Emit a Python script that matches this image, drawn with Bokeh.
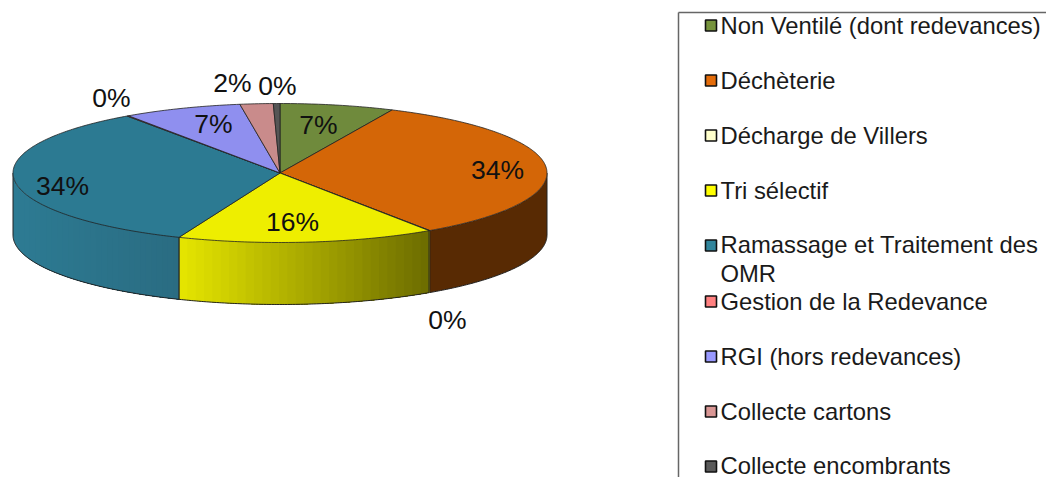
import numpy as np
from bokeh.plotting import figure
from bokeh.models import Range1d
from bokeh.embed import file_html
from bokeh.resources import INLINE
from bokeh.core.properties import value

# ---- data ----
categories = ["Non Ventilé (dont redevances)", "Déchèterie", "Décharge de Villers", "Tri sélectif",
              "Ramassage et Traitement des\nOMR", "Gestion de la Redevance",
              "RGI (hors redevances)", "Collecte cartons", "Collecte encombrants"]
shares = [6.9, 33.6, 0.05, 15.6, 34.1, 0.1, 7.2, 2.0, 0.4]

# ---- styles ----
top_colors = ["#6f8a3c", "#d46607", "#eeeebb", "#eeee00", "#2c7a92", "#ee7777", "#8f8fef", "#c98b8b", "#555555"]
legend_colors = ["#76933c", "#e46c0a", "#ffffcc", "#ffff00", "#31859c", "#ff8080", "#9999ff", "#d99694", "#595959"]
side_from = {1: "#582a03", 2: "#6c6c00", 3: "#e6e600", 4: "#2d7b93"}
side_to = {1: "#582a03", 2: "#6c6c00", 3: "#6c6c00", 4: "#2a6c82"}

# ---- layout (page pixels) ----
CX, CY, RX, RY, DEPTH = 279.5, 172.5, 267, 69.5, 62
label_x = [318, 497, 447, 292, 62, 111, 213, 232, 277]
label_y = [124, 169, 319, 221, 185, 97, 123, 82, 85]
legend_y = [24.5, 79.5, 134.5, 189.5, 258.5, 300.5, 355.5, 410.5, 464.5]
marker_y = [25, 80, 135, 190, 245, 301, 356, 411, 466]
LEG_BOX_X, LEG_BOX_Y, MARK_X, TEXT_X = 678, 12, 710.5, 720
FONT = value("Liberation Sans")

p = figure(width=1046, height=477, output_backend="svg", toolbar_location=None,
           x_range=Range1d(0, 1046), y_range=Range1d(477, 0),
           min_border=0)
p.axis.visible = False
p.grid.visible = False
p.outline_line_color = None
p.background_fill_color = "white"
p.border_fill_color = "white"


def hex_rgb(h):
    return np.array([int(h[i:i + 2], 16) for i in (1, 3, 5)], float)


def to_hex(c):
    return "#%02x%02x%02x" % tuple(int(round(v)) for v in c)


def ell(theta):
    return CX + RX * np.sin(theta), CY - RY * np.cos(theta)


def theta_of_x(x):
    # front half of the ellipse: pi/2 (right) .. 3pi/2 (left)
    return np.pi - np.arcsin(np.clip((x - CX) / RX, -1, 1))


edges = np.cumsum([0] + shares) / sum(shares) * 2 * np.pi

# side walls, front half only: painted left to right, each band runs to the wall's end
for i in side_from:
    a0, a1 = max(edges[i], np.pi / 2), min(edges[i + 1], 3 * np.pi / 2)
    if a1 <= a0:
        continue
    xr, _ = ell(a0)
    xl, _ = ell(a1)
    flat = side_from[i] == side_to[i]
    n = 1 if flat else 30
    xs_edges = np.linspace(xl, xr, n + 1)
    c0, c1 = hex_rgb(side_from[i]), hex_rgb(side_to[i])
    for k in range(n):
        th0 = theta_of_x(xs_edges[k])
        t = np.linspace(th0, a0, 80)
        ex, ey = ell(t)
        f = (k + 0.5) / n
        col = to_hex(c0 + (c1 - c0) * f)
        p.patch(np.r_[ex, ex[::-1]], np.r_[ey, ey[::-1] + DEPTH], fill_color=col, line_color=None)
    t = np.linspace(a0, a1, 100)
    ex, ey = ell(t)
    p.line(ex, ey + DEPTH, line_color="#222222", line_width=1)
    if i != 2:
        for a in (a0, a1):
            ex, ey = ell(np.array([a]))
            p.line([ex[0], ex[0]], [ey[0], ey[0] + DEPTH], line_color="#222222", line_width=1)

# top slices
for i in range(len(shares)):
    t = np.linspace(edges[i], edges[i + 1], max(3, int(shares[i] * 5)))
    ex, ey = ell(t)
    p.patch(np.r_[CX, ex], np.r_[CY, ey], fill_color=top_colors[i], line_color="#222222",
            line_width=0.8)

# data labels
labels = ["%d%%" % round(v) for v in shares]
p.text(label_x, label_y, text=labels, text_font=FONT, text_font_size="26.5px",
       text_color="#111111", text_align="center", text_baseline="middle")

# legend
p.line([LEG_BOX_X, LEG_BOX_X], [LEG_BOX_Y, 477], line_color="#666666", line_width=1.5)
p.line([LEG_BOX_X, 1046], [LEG_BOX_Y, LEG_BOX_Y], line_color="#666666", line_width=1.5)
p.scatter([MARK_X] * len(categories), marker_y, marker="square", size=11,
          fill_color=legend_colors, line_color="#111111", line_width=1.6)
p.text([TEXT_X] * len(categories), legend_y, text=categories, text_font=FONT, text_font_size="23.8px",
       text_color="#1a1a1a", text_align="left", text_baseline="middle", text_line_height=1.05)

open("out.html", "w").write(file_html(p, INLINE))
